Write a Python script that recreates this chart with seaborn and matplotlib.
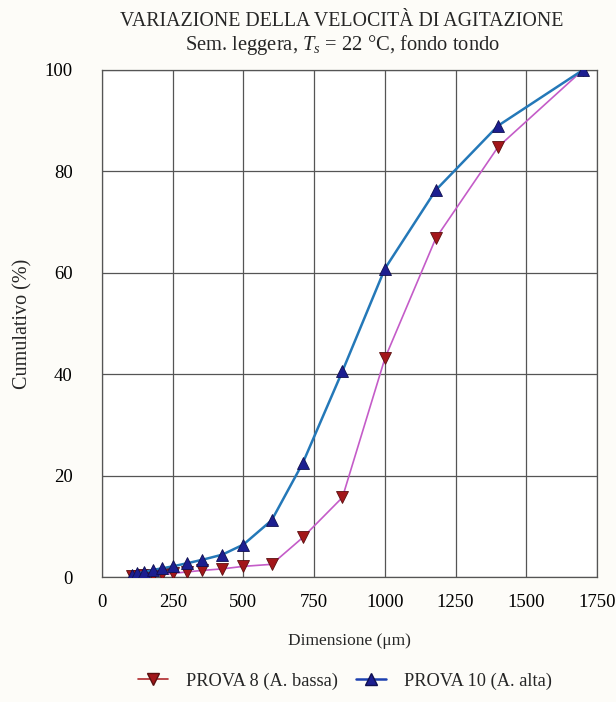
import matplotlib
matplotlib.use("Agg")
import matplotlib.pyplot as plt
import seaborn as sns
import pandas as pd
from matplotlib.lines import Line2D

# ---- data ----
dimensione = [106, 125, 150, 180, 212, 250, 300, 355, 425, 500, 600, 710, 850, 1000, 1180, 1400, 1700]
prova8 = [0.1, 0.2, 0.3, 0.4, 0.5, 0.7, 1.0, 1.3, 1.6, 2.1, 2.5, 7.8, 15.7, 43.1, 66.8, 84.8, 100]
prova10 = [0.4, 0.7, 1.0, 1.4, 1.7, 2.1, 2.7, 3.4, 4.4, 6.4, 11.2, 22.5, 40.6, 60.8, 76.3, 89.0, 100]
xticks = [0, 250, 500, 750, 1000, 1250, 1500, 1750]
yticks = [0, 20, 40, 60, 80, 100]
label8 = "PROVA 8 (A. bassa)"
label10 = "PROVA 10 (A. alta)"

sns.set_style("white")
plt.rcParams['font.family'] = ['Liberation Serif', 'DejaVu Serif']
plt.rcParams['mathtext.fontset'] = 'custom'
plt.rcParams['mathtext.rm'] = 'Liberation Serif'
plt.rcParams['mathtext.it'] = 'Liberation Serif:italic'

fig = plt.figure(figsize=(6.16, 7.02), dpi=100, facecolor='#fdfcf8')
ax = fig.add_axes([102/616, 1-577/702, 495/616, 507/702])
ax.set_facecolor('white')

df8 = pd.DataFrame({'x': dimensione, 'y': prova8})
df10 = pd.DataFrame({'x': dimensione, 'y': prova10})

sns.lineplot(data=df8, x='x', y='y', ax=ax, color='#c45cc8', linewidth=1.2,
             marker='v', markersize=9, markerfacecolor='#a3161a',
             markeredgecolor='#5a1010', markeredgewidth=0.6, zorder=3)
sns.lineplot(data=df10, x='x', y='y', ax=ax, color='#2478b8', linewidth=1.8,
             marker='^', markersize=9, markerfacecolor='#1c1e90',
             markeredgecolor='#101050', markeredgewidth=0.6, zorder=4)

ax.set_xlim(0, 1750)
ax.set_ylim(0, 100)
ax.set_xticks(xticks)
ax.set_yticks(yticks)
ax.grid(True, color='#555555', linewidth=0.9)
for s in ax.spines.values():
    s.set_color('#555555')
    s.set_linewidth(0.9)
ax.tick_params(axis='both', length=0, labelsize=13.5, colors='black')
ax.tick_params(axis='x', pad=12)
ax.tick_params(axis='y', pad=21)

ax.set_xlabel("Dimensione (μm)", fontsize=12.5, labelpad=16)
ax.set_ylabel("Cumulativo (%)", fontsize=14.5, labelpad=9)

fig.text(342/616, 1-21/702, "VARIAZIONE DELLA VELOCITÀ DI AGITAZIONE",
         ha='center', va='center', fontsize=14.3)
fig.text(343/616, 1-45/702, "Sem. leggera, $T_s$ = 22 °C, fondo tondo",
         ha='center', va='center', fontsize=14.8)

h8 = Line2D([], [], color='#b0282c', linewidth=1.2, marker='v', markersize=9,
            markerfacecolor='#a3161a', markeredgecolor='#5a1010')
h10 = Line2D([], [], color='#1c40b0', linewidth=1.8, marker='^', markersize=9,
             markerfacecolor='#1c1e90', markeredgecolor='#101050')
fig.legend([h8, h10], [label8, label10], loc='center', ncol=2, frameon=False,
           bbox_to_anchor=(345/616, 1-681/702), fontsize=13.2,
           handlelength=1.6, columnspacing=1.0, handletextpad=1.0)

fig.savefig("out.png", dpi=100, facecolor=fig.get_facecolor())
